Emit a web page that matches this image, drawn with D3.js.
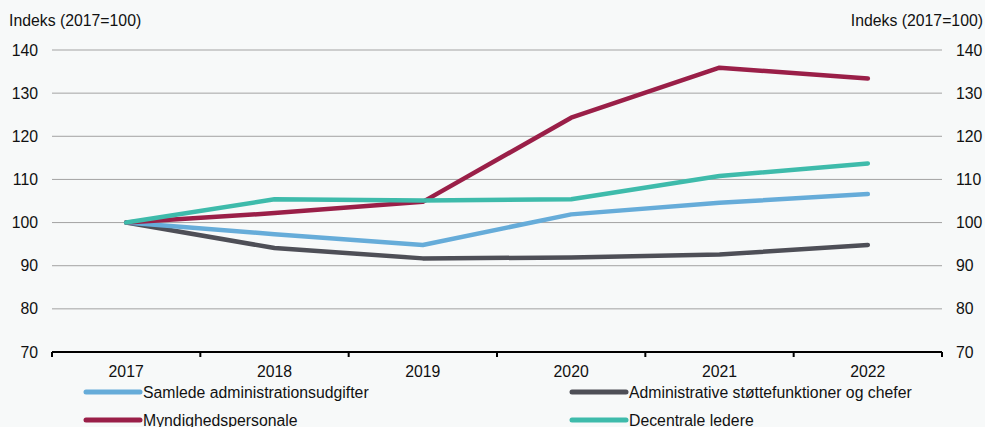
<!DOCTYPE html>
<html>
<head>
<meta charset="utf-8">
<script src="https://cdn.jsdelivr.net/npm/d3@7"></script>
<style>
  body { margin: 0; background: #f7f9f9; }
  svg { display: block; font-family: "Liberation Sans", Arial, sans-serif; }
</style>
</head>
<body>
<div id="chart"></div>
<script>
const years = ["2017", "2018", "2019", "2020", "2021", "2022"];
const samlede = [100, 97.3, 94.8, 101.9, 104.6, 106.6];
const administrative = [100, 94.1, 91.7, 91.9, 92.6, 94.8];
const myndighed = [100, 102.2, 104.8, 124.3, 135.9, 133.4];
const decentrale = [100, 105.4, 105.1, 105.4, 110.8, 113.7];
const yTicks = [70, 80, 90, 100, 110, 120, 130, 140];
const seriesNames = ["Samlede administrationsudgifter", "Administrative støttefunktioner og chefer",
  "Myndighedspersonale", "Decentrale ledere"];
const colors = ["#66acd9", "#4e4f57", "#9a1f48", "#3ebbab"];

const width = 985, height = 427;
const margin = { left: 52, right: 43, top: 50, bottom: 75 };
const fs = 15.8;

const svg = d3.select("#chart").append("svg")
  .attr("width", width).attr("height", height);

const x = d3.scaleBand().domain(years).range([margin.left, width - margin.right]);
const y = d3.scaleLinear().domain([70, 140]).range([height - margin.bottom, margin.top]);

// gridlines
svg.append("g").selectAll("line").data(yTicks.slice(1)).enter().append("line")
  .attr("x1", margin.left).attr("x2", width - margin.right)
  .attr("y1", d => y(d)).attr("y2", d => y(d))
  .attr("stroke", "#a3a3a3").attr("stroke-width", 1);

// left & right tick labels
svg.append("g").selectAll("text").data(yTicks).enter().append("text")
  .attr("x", 38).attr("y", d => y(d) + 5.5)
  .attr("text-anchor", "end").attr("font-size", fs).attr("fill", "#111")
  .text(d => d);
svg.append("g").selectAll("text").data(yTicks).enter().append("text")
  .attr("x", 956).attr("y", d => y(d) + 5.5)
  .attr("text-anchor", "start").attr("font-size", fs).attr("fill", "#111")
  .text(d => d);

svg.append("text").attr("x", 9).attr("y", 26).attr("font-size", fs).attr("fill", "#111")
  .text("Indeks (2017=100)");
svg.append("text").attr("x", 983).attr("y", 26).attr("font-size", fs).attr("fill", "#111")
  .attr("text-anchor", "end").text("Indeks (2017=100)");

// x axis
const xAxis = svg.append("g").attr("transform", `translate(0,${y(70)})`);
xAxis.append("line").attr("x1", margin.left).attr("x2", width - margin.right)
  .attr("stroke", "#000").attr("stroke-width", 2);
const bounds = years.map(d => x(d)).concat([width - margin.right]);
xAxis.selectAll(".tk").data(bounds).enter().append("line")
  .attr("x1", d => d).attr("x2", d => d).attr("y1", 0).attr("y2", 5)
  .attr("stroke", "#000").attr("stroke-width", 2);
xAxis.selectAll("text").data(years).enter().append("text")
  .attr("x", d => x(d) + x.bandwidth() / 2).attr("y", 25)
  .attr("text-anchor", "middle").attr("font-size", fs).attr("fill", "#111")
  .text(d => d);

// lines
const line = d3.line()
  .x((d, i) => x(years[i]) + x.bandwidth() / 2)
  .y(d => y(d));
const allSeries = [samlede, administrative, myndighed, decentrale];
const drawOrder = [1, 0, 2, 3];
svg.append("g").selectAll("path").data(drawOrder).enter().append("path")
  .attr("d", i => line(allSeries[i]))
  .attr("fill", "none")
  .attr("stroke", i => colors[i])
  .attr("stroke-width", 4.5)
  .attr("stroke-linecap", "round")
  .attr("stroke-linejoin", "round");

// legend
const legendPos = [[86, 392], [572, 392], [86, 420], [572, 420]];
const leg = svg.append("g").selectAll("g").data(seriesNames).enter().append("g")
  .attr("transform", (d, i) => `translate(${legendPos[i][0]},${legendPos[i][1]})`);
leg.append("line").attr("x1", 0).attr("x2", 54)
  .attr("stroke", (d, i) => colors[i]).attr("stroke-width", 5).attr("stroke-linecap", "round");
leg.append("text").attr("x", 57).attr("y", 5.5).attr("font-size", fs).attr("fill", "#111")
  .text(d => d);
</script>
</body>
</html>
